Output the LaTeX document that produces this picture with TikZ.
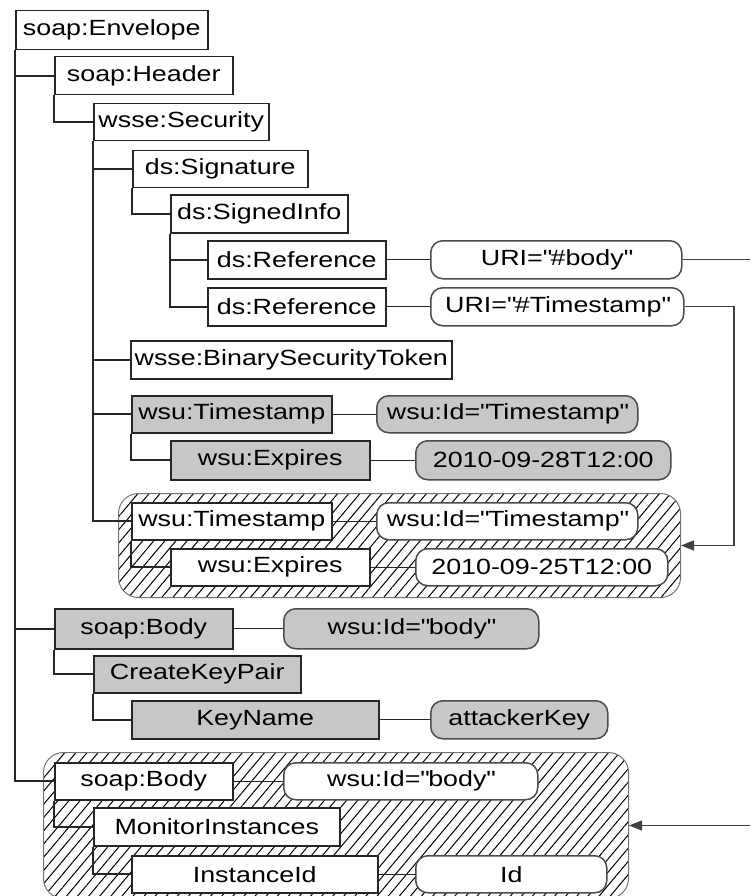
\documentclass[tikz,border=0pt]{standalone}
\usepackage{fontspec}
\setmainfont{Liberation Sans}[FakeStretch=1.22]
\usetikzlibrary{arrows.meta,patterns.meta}

\begin{document}
\begin{tikzpicture}[x=1pt,y=-1pt,
  every node/.style={inner sep=0pt, anchor=north west, font=\fontsize{22}{24}\selectfont},
  elem/.style={draw=black!85, line width=1.5pt, fill=white},
  shaded/.style={fill=black!22},
  attr/.style={elem, draw=black!70, rounded corners=12pt},
  hatchbox/.style={draw=black!55, line width=1pt, rounded corners=20pt,
    pattern={Lines[angle=50,distance=8.5pt,line width=1pt]}},
  tree/.style={draw=black!85, line width=1.6pt},
  link/.style={draw=black!85, line width=1.4pt},
  pointer/.style={draw=black!75, line width=1.2pt}]

\clip (0,0) rectangle (750,896);

% ---- Hatched regions ----
\node[hatchbox, minimum width=562, minimum height=104] (h1) at (118,493) {};
\node[hatchbox, minimum width=585, minimum height=146] (h2) at (43,752) {};

% ---- Header ----
\node[elem, minimum width=192, minimum height=39] (env) at (15,10) {soap:Envelope};
\node[elem, minimum width=178, minimum height=38] (header) at (54,56) {soap:Header};
\node[elem, minimum width=175, minimum height=37] (sec) at (93,103) {wsse:Security};
\node[elem, minimum width=175, minimum height=37] (sig) at (132,150) {ds:Signature};
\node[elem, minimum width=177, minimum height=38] (sinfo) at (170,194) {ds:SignedInfo};
\node[elem, minimum width=178, minimum height=38] (ref1) at (207,240) {ds:Reference};
\node[elem, minimum width=178, minimum height=38] (ref2) at (207,287) {ds:Reference};
\node[elem, minimum width=321, minimum height=38] (bst) at (130,340) {wsse:BinarySecurityToken};

% Original timestamp
\node[elem, shaded, minimum width=200, minimum height=37] (ts1) at (131,395) {wsu:Timestamp};
\node[elem, shaded, minimum width=199, minimum height=39] (exp1) at (170,440) {wsu:Expires};

% Copied timestamp
\node[elem, minimum width=200, minimum height=37] (ts2) at (131,502) {wsu:Timestamp};
\node[elem, minimum width=199, minimum height=37] (exp2) at (170,548) {wsu:Expires};

% ---- Body ----
\node[elem, shaded, minimum width=178, minimum height=40] (body1) at (54,608) {soap:Body};
\node[elem, shaded, minimum width=207, minimum height=37] (ckp) at (93,655) {CreateKeyPair};
\node[elem, shaded, minimum width=247, minimum height=38] (kname) at (131,700) {KeyName};

% Wrapped body
\node[elem, minimum width=178, minimum height=37] (body2) at (54,762) {soap:Body};
\node[elem, minimum width=246, minimum height=38] (mon) at (93,807) {MonitorInstances};
\node[elem, minimum width=246, minimum height=37] (iid) at (131,855) {InstanceId};

% ---- Attributes ----
\node[attr, minimum width=251, minimum height=38] (uri1) at (430,240) {URI=\textquotedbl\#body\textquotedbl};
\node[attr, minimum width=253, minimum height=38] (uri2) at (430,287) {URI=\textquotedbl\#Timestamp\textquotedbl};
\node[attr, shaded, minimum width=261, minimum height=37] (tsid1) at (376,395) {wsu:Id=\textquotedbl Timestamp\textquotedbl};
\node[attr, shaded, minimum width=255, minimum height=39] (date1) at (415,440) {2010-09-28T12:00};
\node[attr, minimum width=261, minimum height=37] (tsid2) at (376,502) {wsu:Id=\textquotedbl Timestamp\textquotedbl};
\node[attr, minimum width=252, minimum height=37] (date2) at (415,548) {2010-09-25T12:00};
\node[attr, shaded, minimum width=255, minimum height=40] (bid1) at (283,608) {wsu:Id=\textquotedbl body\textquotedbl};
\node[attr, shaded, minimum width=177, minimum height=38] (akey) at (430,700) {attackerKey};
\node[attr, minimum width=254, minimum height=37] (bid2) at (283,762) {wsu:Id=\textquotedbl body\textquotedbl};
\node[attr, minimum width=191, minimum height=37] (idv) at (415,855) {Id};

% ---- Tree ----
\draw[tree] (env.south west) |- (header.west)
  (env.south west) |- (body1.west)
  (env.south west) |- (body2.west);
\draw[tree] (header.south west) |- (sec.west);
\draw[tree] (sec.south west) |- (sig.west)
  (sec.south west) |- (bst.west)
  (sec.south west) |- (ts1.west)
  (sec.south west) |- (ts2.west);
\draw[tree] (sig.south west) |- (sinfo.west);
\draw[tree] (sinfo.south west) |- (ref1.west)
  (sinfo.south west) |- (ref2.west);
\draw[tree] (ts1.south west) |- (exp1.west);
\draw[tree] (ts2.south west) |- (exp2.west);
\draw[tree] (body1.south west) |- (ckp.west);
\draw[tree] (ckp.south west) |- (kname.west);
\draw[tree] (body2.south west) |- (mon.west);
\draw[tree] (mon.south west) |- (iid.west);

% Attribute links
\draw[link] (ref1.east) -- (uri1.west);
\draw[link] (ref2.east) -- (uri2.west);
\draw[link] (ts1.east) -- (tsid1.west);
\draw[link] (exp1.east) -- (date1.west);
\draw[link] (ts2.east) -- (tsid2.west);
\draw[link] (exp2.east) -- (date2.west);
\draw[link] (body1.east) -- (bid1.west);
\draw[link] (kname.east) -- (akey.west);
\draw[link] (body2.east) -- (bid2.west);
\draw[link] (iid.east) -- (idv.west);

% ---- References ----
\coordinate (outA) at (760,0);
\coordinate (bendB) at (734,0);
\draw[pointer] (uri1.east) -- (uri1.east -| outA);
\draw[pointer, -{Triangle[length=13pt,width=10pt]}] (uri2.east) -- (uri2.east -| bendB)
  -- (h1.east -| bendB) -- (h1.east);
\draw[pointer, -{Triangle[length=13pt,width=10pt]}] (h2.east -| outA) -- (h2.east);

\end{tikzpicture}
\end{document}
